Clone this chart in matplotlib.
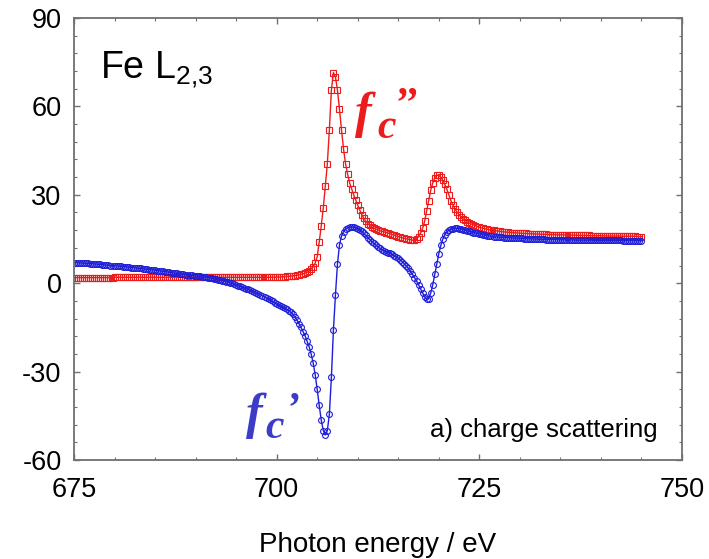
import matplotlib
matplotlib.use("Agg")
import matplotlib.pyplot as plt
from matplotlib.ticker import MultipleLocator

plt.rcParams['font.family'] = ['Liberation Sans', 'DejaVu Sans']
plt.rcParams['axes.unicode_minus'] = False
plt.rcParams['mathtext.fontset'] = 'custom'
plt.rcParams['mathtext.rm'] = 'Liberation Sans'
plt.rcParams['mathtext.it'] = 'Liberation Sans:italic'

# Photon energy (eV), one row per eV
energy_pre = [
    675, 675.25, 675.5, 675.75, 676, 676.25, 676.5, 676.75,
    677, 677.25, 677.5, 677.75, 678, 678.25, 678.5, 678.75,
    679, 679.25, 679.5, 679.75, 680, 680.25, 680.5, 680.75,
    681, 681.25, 681.5, 681.75, 682, 682.25, 682.5, 682.75,
    683, 683.25, 683.5, 683.75, 684, 684.25, 684.5, 684.75,
    685, 685.25, 685.5, 685.75, 686, 686.25, 686.5, 686.75,
    687, 687.25, 687.5, 687.75, 688, 688.25, 688.5, 688.75,
    689, 689.25, 689.5, 689.75, 690, 690.25, 690.5, 690.75,
    691, 691.25, 691.5, 691.75, 692, 692.25, 692.5, 692.75,
    693, 693.25, 693.5, 693.75, 694, 694.25, 694.5, 694.75,
    695, 695.25, 695.5, 695.75, 696, 696.25, 696.5, 696.75,
    697, 697.25, 697.5, 697.75, 698, 698.25, 698.5, 698.75,
    699, 699.25, 699.5, 699.75, 700, 700.25, 700.5, 700.75,
    701, 701.25, 701.5, 701.75, 702, 702.25, 702.5, 702.75,
    703, 703.25, 703.5, 703.75, 704]
energy_l3 = [704.25, 704.5, 704.75, 705, 705.25, 705.5, 705.75, 706, 706.25,
             706.5, 706.75, 707, 707.25, 707.5, 707.75, 708, 708.25, 708.5]
energy_mid = [
    708.75, 709, 709.25, 709.5, 709.75, 710, 710.25, 710.5,
    710.75, 711, 711.25, 711.5, 711.75, 712, 712.25, 712.5,
    712.75, 713, 713.25, 713.5, 713.75, 714, 714.25, 714.5,
    714.75, 715, 715.25, 715.5, 715.75, 716, 716.25, 716.5]
energy_l2 = [716.75, 717, 717.25, 717.5, 717.75, 718, 718.25, 718.5, 718.75,
             719, 719.25, 719.5, 719.75, 720, 720.25, 720.5, 720.75, 721,
             721.25]
energy_post = [
    721.5, 721.75,
    722, 722.25, 722.5, 722.75, 723, 723.25, 723.5, 723.75,
    724, 724.25, 724.5, 724.75, 725, 725.25, 725.5, 725.75,
    726, 726.25, 726.5, 726.75, 727, 727.25, 727.5, 727.75,
    728, 728.25, 728.5, 728.75, 729, 729.25, 729.5, 729.75,
    730, 730.25, 730.5, 730.75, 731, 731.25, 731.5, 731.75,
    732, 732.25, 732.5, 732.75, 733, 733.25, 733.5, 733.75,
    734, 734.25, 734.5, 734.75, 735, 735.25, 735.5, 735.75,
    736, 736.25, 736.5, 736.75, 737, 737.25, 737.5, 737.75,
    738, 738.25, 738.5, 738.75, 739, 739.25, 739.5, 739.75,
    740, 740.25, 740.5, 740.75, 741, 741.25, 741.5, 741.75,
    742, 742.25, 742.5, 742.75, 743, 743.25, 743.5, 743.75,
    744, 744.25, 744.5, 744.75, 745]

# f' (real part, blue)
f1_pre = [
    7.0, 7.0, 6.9, 6.9, 6.8, 6.8, 6.7, 6.7,
    6.6, 6.6, 6.5, 6.5, 6.4, 6.4, 6.3, 6.2,
    6.1, 6.1, 6.0, 6.0, 5.9, 5.9, 5.8, 5.7,
    5.6, 5.6, 5.5, 5.4, 5.3, 5.3, 5.2, 5.1,
    5.0, 5.0, 4.9, 4.8, 4.7, 4.6, 4.5, 4.5,
    4.4, 4.3, 4.2, 4.1, 4.0, 3.9, 3.8, 3.7,
    3.6, 3.5, 3.4, 3.3, 3.2, 3.1, 3.0, 2.9,
    2.8, 2.8, 2.7, 2.6, 2.5, 2.4, 2.3, 2.2,
    2.1, 2.0, 1.9, 1.8, 1.6, 1.5, 1.3, 1.2,
    1.0, 0.9, 0.7, 0.5, 0.3, 0.1, -0.1, -0.4,
    -0.6, -0.9, -1.1, -1.4, -1.6, -1.9, -2.1, -2.4,
    -2.7, -3.0, -3.3, -3.6, -3.9, -4.3, -4.6, -5.0,
    -5.3, -5.8, -6.2, -6.7, -7.1, -7.5, -7.8, -8.2,
    -8.5, -8.9, -9.3, -9.9, -10.6, -11.5, -12.5, -13.7,
    -15.0, -16.4, -17.8, -19.6, -21.5]
f1_l3 = [-24.0, -27.0, -31.0, -36.0, -41.5, -46.5, -50.0, -51.5, -50.0,
         -44.5, -32.0, -16.0, -4.0, 6.5, 13.0, 16.0, 17.5, 18.5]
f1_mid = [
    18.8, 19.0, 19.1, 19.0, 18.8, 18.5, 18.1, 17.6,
    16.9, 16.2, 15.5, 14.8, 14.1, 13.5, 12.9, 12.3,
    11.8, 11.4, 11.0, 10.7, 10.4, 10.1, 9.8, 9.4,
    9.0, 8.5, 7.9, 7.3, 6.6, 5.8, 5.0, 4.1]
f1_l2 = [3.0, 1.9, 0.8, -0.5, -1.9, -3.3, -4.6, -5.5, -5.3,
         -3.4, -0.6, 3.0, 6.6, 10.0, 12.8, 15.0, 16.5, 17.5,
         18.0]
f1_post = [
    18.3, 18.5,
    18.6, 18.6, 18.5, 18.4, 18.2, 18.0, 17.8, 17.6,
    17.4, 17.2, 17.0, 16.9, 16.7, 16.6, 16.4, 16.3,
    16.1, 16.0, 15.9, 15.8, 15.7, 15.7, 15.6, 15.6,
    15.5, 15.5, 15.4, 15.4, 15.3, 15.3, 15.3, 15.2,
    15.2, 15.2, 15.1, 15.1, 15.1, 15.0, 15.0, 15.0,
    15.0, 14.9, 14.9, 14.9, 14.9, 14.8, 14.8, 14.8,
    14.8, 14.8, 14.8, 14.7, 14.7, 14.7, 14.7, 14.7,
    14.7, 14.7, 14.7, 14.6, 14.6, 14.6, 14.6, 14.6,
    14.6, 14.6, 14.6, 14.6, 14.6, 14.5, 14.5, 14.5,
    14.5, 14.5, 14.5, 14.5, 14.5, 14.5, 14.5, 14.5,
    14.5, 14.5, 14.5, 14.4, 14.4, 14.4, 14.4, 14.4,
    14.4, 14.4, 14.4, 14.4, 14.4]

# f'' (imaginary part, red)
f2_pre = [
    1.9, 1.9, 1.9, 1.9, 1.9, 1.9, 1.9, 1.9,
    1.9, 1.9, 1.9, 1.9, 1.9, 1.9, 1.9, 1.9,
    1.9, 1.9, 1.9, 1.9, 2.0, 2.0, 2.0, 2.0,
    2.0, 2.0, 2.0, 2.0, 2.0, 2.0, 2.0, 2.0,
    2.0, 2.0, 2.0, 2.0, 2.0, 2.0, 2.0, 2.0,
    2.0, 2.0, 2.0, 2.0, 2.0, 2.0, 2.0, 2.0,
    2.0, 2.0, 2.0, 2.0, 2.0, 2.0, 2.0, 2.0,
    2.0, 2.0, 2.0, 2.0, 2.0, 2.0, 2.0, 2.0,
    2.0, 2.0, 2.0, 2.0, 2.0, 2.0, 2.0, 2.0,
    2.0, 2.0, 2.0, 2.0, 2.0, 2.0, 2.0, 2.0,
    2.0, 2.0, 2.0, 2.0, 2.0, 2.0, 2.0, 2.0,
    2.0, 2.0, 2.0, 2.0, 2.0, 2.0, 2.0, 2.0,
    2.0, 2.0, 2.0, 2.0, 2.1, 2.1, 2.1, 2.2,
    2.2, 2.3, 2.3, 2.4, 2.5, 2.6, 2.7, 2.8,
    3.0, 3.2, 3.4, 3.7, 4.1]
f2_l3 = [4.8, 5.6, 6.8, 9.0, 14.0, 19.5, 25.5, 33.0, 40.5,
         52.0, 65.5, 71.5, 70.0, 65.5, 59.0, 52.0, 45.5, 40.5]
f2_mid = [
    37.0, 34.0, 32.0, 30.0, 28.2, 26.5, 24.8, 23.3,
    22.0, 21.0, 20.2, 19.6, 19.1, 18.7, 18.4, 18.1,
    17.8, 17.6, 17.4, 17.2, 17.0, 16.8, 16.5, 16.3,
    16.0, 15.8, 15.6, 15.4, 15.2, 15.1, 14.9, 14.8]
f2_l2 = [14.6, 14.6, 15.0, 15.8, 17.0, 18.6, 21.0, 24.5, 28.0,
         31.5, 34.0, 35.8, 36.6, 36.6, 35.9, 34.9, 33.5, 31.8,
         29.9]
f2_post = [
    28.0, 26.5,
    25.2, 24.1, 23.2, 22.4, 21.8, 21.3, 20.8, 20.4,
    20.1, 19.8, 19.5, 19.2, 19.0, 18.8, 18.6, 18.4,
    18.3, 18.1, 18.0, 17.9, 17.8, 17.7, 17.6, 17.5,
    17.4, 17.4, 17.3, 17.2, 17.2, 17.1, 17.1, 17.0,
    17.0, 16.9, 16.9, 16.9, 16.8, 16.8, 16.8, 16.7,
    16.7, 16.7, 16.6, 16.6, 16.6, 16.6, 16.5, 16.5,
    16.5, 16.5, 16.4, 16.4, 16.4, 16.4, 16.4, 16.4,
    16.3, 16.3, 16.3, 16.3, 16.3, 16.2, 16.2, 16.2,
    16.2, 16.2, 16.2, 16.1, 16.1, 16.1, 16.1, 16.1,
    16.1, 16.1, 16.1, 16.0, 16.0, 16.0, 16.0, 16.0,
    16.0, 16.0, 16.0, 15.9, 15.9, 15.9, 15.9, 15.9,
    15.9, 15.9, 15.8, 15.8, 15.8]

energy = energy_pre + energy_l3 + energy_mid + energy_l2 + energy_post
f_real = f1_pre + f1_l3 + f1_mid + f1_l2 + f1_post
f_imag = f2_pre + f2_l3 + f2_mid + f2_l2 + f2_post

x_ticks = [675, 700, 725, 750]
y_ticks = [-60, -30, 0, 30, 60, 90]

RED = '#ec1c1c'
BLUE = '#1e1ed8'

W, H = 709, 559
fig = plt.figure(figsize=(W / 100, H / 100), dpi=100)
ax = fig.add_axes([74 / W, 1 - 460 / H, (682 - 74) / W, (460 - 18) / H])

ax.plot(energy, f_imag, color=RED, lw=1.0, marker='s', ms=4.0,
        mfc='none', mec=RED, mew=0.8)
ax.plot(energy, f_real, color=BLUE, lw=1.0, marker='o', ms=4.2,
        mfc='none', mec=BLUE, mew=0.8)

ax.set_xlim(675, 750)
ax.set_ylim(-60, 90)
ax.set_xticks(x_ticks)
ax.set_yticks(y_ticks)
ax.xaxis.set_minor_locator(MultipleLocator(5))
ax.yaxis.set_minor_locator(MultipleLocator(6))
ax.tick_params(which='both', direction='in', top=True, right=True,
               color='#707070', labelsize=19.5)
ax.tick_params(which='major', length=4, width=1)
ax.tick_params(which='minor', length=2.5, width=0.8)
ax.tick_params(axis='y', pad=9)
ax.tick_params(axis='x', pad=12)
for s in ax.spines.values():
    s.set_color('#707070')
    s.set_linewidth(1.3)

def px(x, y):
    return x / W, 1 - y / H

fig.text(*px(378, 552), 'Photon energy / eV', ha='center', va='baseline',
         fontsize=20)
fig.text(*px(100, 78), r'Fe L$_{2{,}3}$', ha='left', va='baseline', fontsize=27)
fig.text(*px(430, 437), 'a) charge scattering', ha='left', va='baseline',
         fontsize=18.5)

# f labels in bold italic serif
serif = dict(family='Liberation Serif', weight='bold', style='italic')
fig.text(*px(355, 127), 'f', color=RED, fontsize=36, **serif)
fig.text(*px(377, 138), 'c', color=RED, fontsize=30, **serif)
fig.text(*px(393, 115), '\u2019\u2019', color=RED, fontsize=30, **serif)

BLUE_T = '#3c3cc8'
fig.text(*px(246, 428), 'f', color=BLUE_T, fontsize=36, **serif)
fig.text(*px(265, 438), 'c', color=BLUE_T, fontsize=30, **serif)
fig.text(*px(285, 420), '\u2019', color=BLUE_T, fontsize=30, **serif)

fig.savefig('out.png', dpi=100)
